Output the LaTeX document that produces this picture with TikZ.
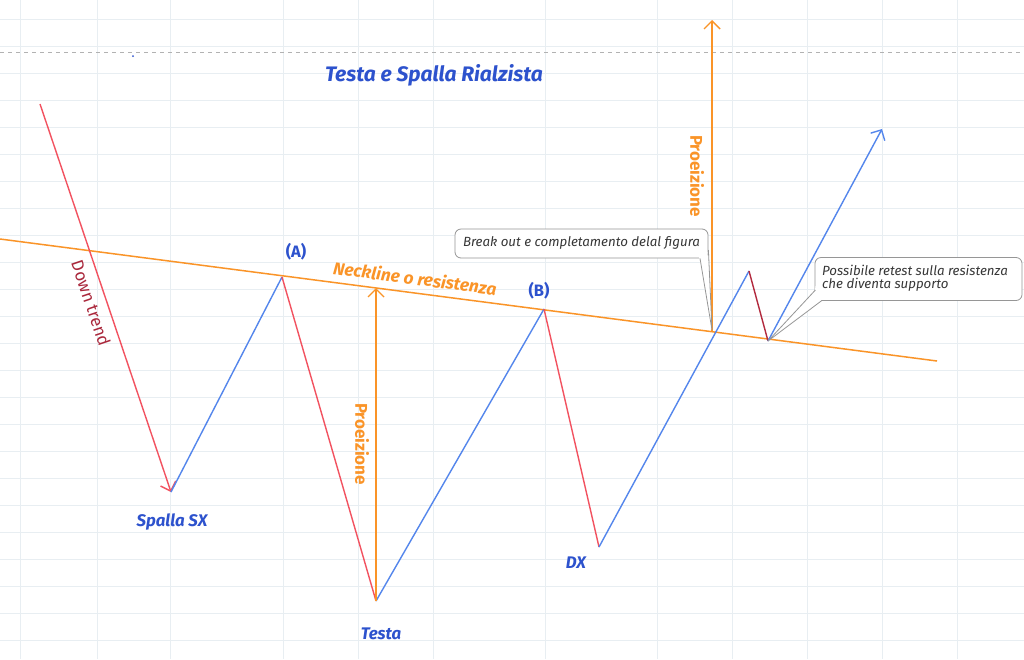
\documentclass[tikz,border=0pt]{standalone}
\usepackage{fontspec}
\setmainfont{Fira Sans}
\usetikzlibrary{arrows.meta}
\definecolor{gridc}{RGB}{232,238,242}
\definecolor{redl}{RGB}{242,82,96}
\definecolor{bluel}{RGB}{84,134,236}
\definecolor{orangel}{RGB}{250,148,40}
\definecolor{txtblue}{RGB}{45,82,205}
\definecolor{darkred}{RGB}{170,40,60}
\definecolor{retest}{RGB}{178,42,62}
\definecolor{calloutc}{RGB}{150,150,150}
\definecolor{callouttxt}{RGB}{55,55,55}
\begin{document}
\begin{tikzpicture}[x=1pt,y=-1pt,
  gridline/.style={draw=gridc,line width=0.8pt},
  upleg/.style={draw=bluel,line width=1.4pt},
  downleg/.style={draw=redl,line width=1.4pt},
  tip/.style={-{Straight Barb[length=8pt,width=16pt,line width=1.4pt]}},
  projarrow/.style={draw=orangel,line width=1.5pt,tip},
  ptlabel/.style={text=txtblue,font=\bfseries\itshape\fontsize{16.8}{19}\selectfont,inner sep=0pt},
  peaklabel/.style={text=txtblue,font=\bfseries\fontsize{16.5}{19}\selectfont,inner sep=0pt},
  projlabel/.style={text=orangel,font=\bfseries\fontsize{17}{19}\selectfont,inner sep=0pt,rotate=-90},
  callbox/.style={draw=calloutc,line width=0.8pt,rounded corners=6pt,fill=white},
  calltext/.style={text=callouttxt,font=\itshape\fontsize{13.3}{13.2}\selectfont,inner sep=0pt,align=left},
]
\useasboundingbox (0,0) rectangle (1024,659);
\fill[white] (0,0) rectangle (1024,659);
% grid
\foreach \gx in {20,97,170,283,358,433,545,657,732,807,882,957}
  \draw[gridline] (\gx,0) -- (\gx,659);
\foreach \gy in {19,46,73,100,127,154,181,208,235,262,289,316,343,370,397,424,451,478,505,532,559,586,613,640}
  \draw[gridline] (0,\gy) -- (1024,\gy);
% dashed line
\draw[draw=gray!60,line width=0.9pt,dash pattern=on 4pt off 4pt] (0,52) -- (1024,52);
\fill[txtblue] (133,56) circle (1pt);

% key points
\coordinate (dtstart) at (40,104);
\coordinate (sx) at (171,492);
\coordinate (pA) at (282,277);
\coordinate (head) at (376,601);
\coordinate (pB) at (544,309);
\coordinate (dx) at (599,547);
\coordinate (brk) at (712,331.5);
\coordinate (rtop) at (749,271);
\coordinate (rlow) at (768,341);
\coordinate (fin) at (882,129);
\coordinate (nlL) at (0,239);
\coordinate (nlR) at (937,361);
\coordinate (neckhead) at (376,288);
\coordinate (projtop) at (712,20);

% neckline
\draw[draw=orangel,line width=1.5pt] (nlL) -- (nlR);

% price legs
\draw[downleg,tip] (dtstart) -- (sx);
\draw[upleg] (sx) -- (pA);
\draw[downleg] (pA) -- (head);
\draw[upleg] (head) -- (pB);
\draw[downleg] (pB) -- (dx);
\draw[upleg] (dx) -- (rtop);
\draw[draw=retest,line width=1.4pt] (rtop) -- (rlow);
\draw[upleg,tip] (rlow) -- (fin);

% projections
\draw[projarrow] (head) -- (neckhead);
\draw[projarrow] (brk) -- (projtop);

% labels
\node[text=txtblue,font=\bfseries\itshape\fontsize{21}{25}\selectfont,inner sep=0pt] (title) at (434,75) {Testa e Spalla Rialzista};
\node[peaklabel] (lA) at (296,252) {(A)};
\node[peaklabel] (lB) at (539,291) {(B)};
\node[ptlabel] (lsx) at (172,522) {Spalla SX};
\node[ptlabel] (lhead) at (381,634) {Testa};
\node[ptlabel] (ldx) at (576,563) {DX};
\node[text=orangel,font=\bfseries\itshape\fontsize{17.3}{19}\selectfont,inner sep=0pt,rotate=-7.4] (lneck) at (415,278) {Neckline o resistenza};
\node[text=darkred,font=\fontsize{17}{19}\selectfont,inner sep=0pt,rotate=-71.3] (ldown) at (91,303) {Down trend};
\node[projlabel] (lproj1) at (362,444) {Proeizione};
\node[projlabel] (lproj2) at (697,176) {Proeizione};

% callout 1
\node[callbox,minimum width=253pt,minimum height=29pt] (c1) at (581.5,243.5) {};
\fill[white] (699,257) -- (712,330) -- (707.5,252) -- cycle;
\draw[draw=calloutc,line width=0.8pt] (700,258.4) -- (712,330) -- (708.4,250);
\node[calltext] (t1) at (581.5,242.5) {Break out e completamento delal figura};

% callout 2
\node[callbox,minimum width=207pt,minimum height=43pt] (c2) at (918.5,279) {};
\fill[white] (815,290) -- (768,341) -- (822,300) -- (826,299) -- (815.5,286) -- cycle;
\draw[draw=calloutc,line width=0.8pt] (815.4,290) -- (768,341) -- (822,300.4);
\node[calltext,anchor=west] (t2) at (822,278.5) {Possibile retest sulla resistenza\\che diventa supporto};
\end{tikzpicture}
\end{document}
